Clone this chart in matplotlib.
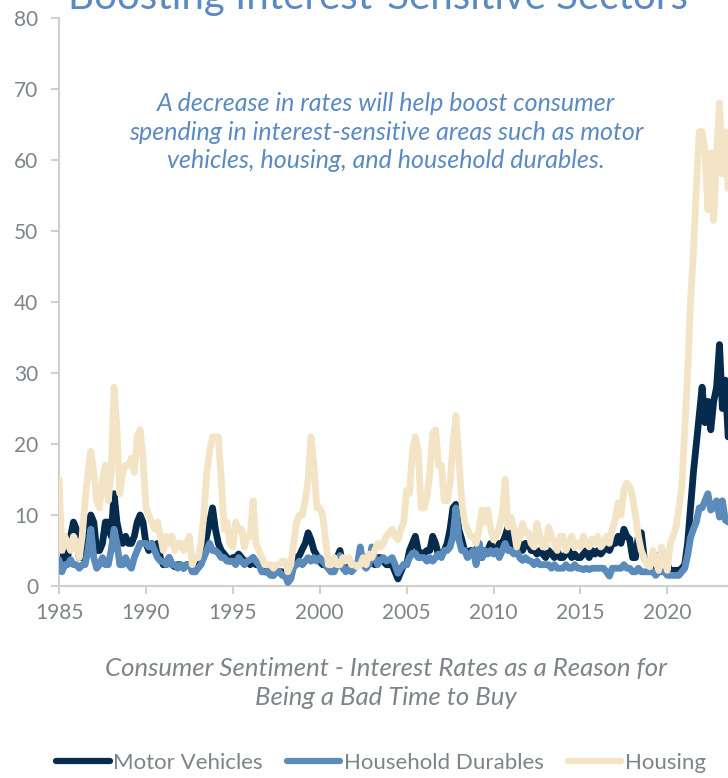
import matplotlib
matplotlib.use("Agg")
import matplotlib.pyplot as plt
import numpy as np
import pandas as pd

plt.rcParams['font.family'] = ['Lato', 'DejaVu Sans']

# ---------------- data (bi-monthly readings, Jan/Mar/May/Jul/Sep/Nov) ----------------
series_names = ["Motor Vehicles", "Household Durables", "Housing"]

motor_vehicles = [
    6, 4, 3, 4, 7, 9,          # 1985
    8, 4, 4, 6, 9, 10,         # 1986
    9, 5, 5, 6, 9, 9,          # 1987
    7, 13, 9, 7, 6, 7,         # 1988
    6, 6, 7, 9, 10, 9,         # 1989
    6, 5, 6, 5, 6, 4,          # 1990
    3, 3, 4, 3, 2.7, 3,        # 1991
    3, 2.5, 3, 3, 2.5, 2,      # 1992
    3, 4, 5.5, 7, 9, 11,       # 1993
    8, 6, 5, 4.5, 4, 3.5,      # 1994
    4, 4, 4.5, 4, 3.5, 3.5,    # 1995
    3, 4, 3, 3, 2.5, 2,        # 1996
    2, 2, 1.5, 2, 2, 2,        # 1997
    2, 1, 1.5, 3, 4, 4.3,      # 1998
    5.2, 6, 7.5, 6.5, 5, 4.3,  # 1999
    3.5, 3, 3, 2.5, 2, 3,      # 2000
    4, 5, 3, 3, 3, 2.5,        # 2001
    3, 3, 3.5, 3, 4, 3,        # 2002
    3.5, 3, 4, 4, 3.5, 3,      # 2003
    3, 3, 2, 1, 2, 3,          # 2004
    3, 5, 6, 7, 5, 4.6,        # 2005
    4.6, 5, 5, 7, 6, 4.3,      # 2006
    4.3, 5, 6, 8, 11, 11.5,    # 2007
    8, 6.6, 5, 4.6, 5, 5,      # 2008
    5, 6, 4, 5, 5, 6,          # 2009
    5, 5, 6, 6, 7, 8.3,        # 2010
    6, 6, 5, 6, 5, 6,          # 2011
    6, 5, 5, 4.5, 5, 4.5,      # 2012
    4, 5, 4.5, 4, 5, 4,        # 2013
    4, 4.5, 5, 4, 4.5, 4,      # 2014
    4, 4.5, 5, 4, 5, 4.5,      # 2015
    5, 4.5, 5, 6, 5, 6,        # 2016
    6, 7, 6, 8, 7, 6.6,        # 2017
    4, 4, 7, 7.5, 4, 3.3,      # 2018
    3.3, 4, 2.5, 4.3, 3.5, 3.5,  # 2019
    3, 2.2, 2.2, 2.2, 2.2, 2.5,  # 2020
    3, 6, 11, 16, 20, 24,      # 2021
    28, 23, 26, 22, 26, 28,    # 2022
    34, 25, 29, 21,            # 2023
]

household_durables = [
    3.7, 2, 3, 3, 3.7, 3,      # 1985
    3, 2.5, 3, 3, 5, 8,        # 1986
    4, 2.5, 3, 4, 3, 3,        # 1987
    5, 8, 6, 3, 3, 4,          # 1988
    3, 2.5, 4, 5, 6, 6,        # 1989
    6, 5.5, 6, 5, 4, 3.5,      # 1990
    3.5, 3, 4, 3, 3, 2.5,      # 1991
    3, 2.5, 3, 3, 2, 2,        # 1992
    2.5, 3, 4, 5, 6, 5,        # 1993
    5, 4.6, 4, 4, 3.5, 3.5,    # 1994
    3.5, 3, 4, 3.5, 3, 3.5,    # 1995
    3.7, 4, 3.5, 3, 2, 2,      # 1996
    2, 1.5, 1.5, 2, 2, 1.5,    # 1997
    1.5, 0.5, 1, 2.7, 3, 3.5,  # 1998
    3, 3.5, 4, 3.5, 4, 3.5,    # 1999
    4, 3.5, 3, 2.5, 2, 2,      # 2000
    3, 4.3, 2.5, 2, 2.5, 2,    # 2001
    2.5, 3, 5.5, 3, 2.5, 3,    # 2002
    5.5, 4, 3, 3.7, 4, 3.5,    # 2003
    3.7, 4, 3, 1.8, 2.5, 3,    # 2004
    3, 4, 4.6, 4.6, 4, 4,      # 2005
    4, 3.5, 4, 3.5, 4, 4.5,    # 2006
    4, 5, 5, 5.5, 7, 11,       # 2007
    6.6, 5, 5, 4, 4.5, 5,      # 2008
    3, 6, 4, 5, 4.5, 5,        # 2009
    4.5, 5, 4, 5, 6, 5,        # 2010
    5, 4.5, 5, 4, 3.6, 4,      # 2011
    3.6, 3.5, 3, 3.5, 3, 3,    # 2012
    3, 3, 2.5, 3, 2.5, 2.5,    # 2013
    2.5, 3, 2.5, 2.5, 3, 2.5,  # 2014
    2.5, 2.3, 2.5, 2.3, 2.5, 2.5,  # 2015
    2.5, 2.5, 2.5, 2, 1.4, 2.5,    # 2016
    2.5, 2.5, 2.5, 3, 2.5, 2.5,    # 2017
    2, 2, 2.5, 2, 2, 2,        # 2018
    2, 2, 1.5, 2, 2, 2,        # 2019
    1.5, 1.5, 1.5, 1.5, 1.5, 2,  # 2020
    2.5, 4.3, 6.8, 8, 9, 11,   # 2021
    11, 12, 13, 10.7, 11, 12,  # 2022
    9.7, 12, 9.3, 9,           # 2023
]

housing = [
    15, 5, 7, 6, 5, 7,         # 1985
    6, 4, 7, 12, 16, 19,       # 1986
    16, 12, 11, 15, 17, 12,    # 1987
    16, 28, 22, 13, 16, 17,    # 1988
    17, 18, 16, 21, 22, 18,    # 1989
    11, 10, 9, 8, 9, 7,        # 1990
    5, 7, 6, 7, 5, 6,          # 1991
    6, 5, 6, 7, 3, 4,          # 1992
    4, 6, 10, 16, 19, 21,      # 1993
    21, 21, 15, 8, 9, 6,       # 1994
    5.5, 9, 8, 8, 5.5, 7,      # 1995
    7, 12, 6, 5, 4, 3,         # 1996
    3, 3, 2.5, 3, 3, 3.5,      # 1997
    3.5, 2, 3, 6, 9, 10,       # 1998
    10, 12, 15, 21, 17, 11,    # 1999
    11, 10, 6.5, 3, 3, 4,      # 2000
    3, 3, 4, 3.5, 4, 3,        # 2001
    3, 2.7, 3, 4, 3, 4.5,      # 2002
    4, 5, 6, 5.5, 6, 7,        # 2003
    7.5, 8, 7, 6.5, 8, 9,      # 2004
    13.5, 13, 19, 21, 19, 11,  # 2005
    11, 12.5, 16, 21.5, 22, 17,  # 2006
    17, 12, 12, 14.5, 20, 24,  # 2007
    18, 12, 9, 8, 7, 7,        # 2008
    6, 8, 10.7, 9, 10.7, 8,    # 2009
    6.5, 7, 8.3, 10, 15, 8.3,  # 2010
    9.7, 8, 5.5, 7, 8.8, 7.5,  # 2011
    7.5, 6, 5.5, 8.8, 7, 5.5,  # 2012
    5.5, 8.3, 7, 6, 5, 7,      # 2013
    7, 5, 6, 7, 5.5, 6,        # 2014
    5.5, 7, 6, 5.5, 6.6, 6,    # 2015
    7, 5.5, 6, 7, 6, 8,        # 2016
    9.3, 11.7, 10, 13.5, 14.5, 14,  # 2017
    12.5, 10, 7, 5, 4, 3,      # 2018
    2.7, 5, 3.5, 2.2, 5.5, 4,  # 2019
    2.2, 6, 7, 8.3, 11, 14,    # 2020
    22, 30, 40, 47, 56, 64,    # 2021
    64, 61, 53, 61, 51.5, 61,  # 2022
    68, 58, 64, 56,            # 2023
]

year_ticks = [1985, 1990, 1995, 2000, 2005, 2010, 2015, 2020]
year_labels = ["1985", "1990", "1995", "2000", "2005", "2010", "2015", "2020"]
y_ticks = [0, 10, 20, 30, 40, 50, 60, 70, 80]

title_text = "Boosting Interest-Sensitive Sectors"
note_text = ("A decrease in rates will help boost consumer\n"
             "spending in interest-sensitive areas such as motor\n"
             "vehicles, housing, and household durables.")
xlabel_text = ("Consumer Sentiment - Interest Rates as a Reason for\n"
               "Being a Bad Time to Buy")

# ---------------- styling ----------------
c_navy = "#062b4c"
c_blue = "#5b8bbb"
c_beige = "#f2e4c5"
c_title = "#5a8ac2"
c_gray = "#7d8489"
c_axis = "#d0d0d0"

dates = pd.date_range("1985-01-01", periods=len(housing), freq="2MS")
x = dates.year + (dates.month - 1) / 12.0

fig = plt.figure(figsize=(7.28, 7.78), dpi=100)
ax = fig.add_axes([59 / 728, 192 / 778, 669 / 728, 568 / 778])

lw = 4.9
ax.plot(x, motor_vehicles, color=c_navy, lw=lw, solid_joinstyle="round",
        solid_capstyle="round", label=series_names[0], zorder=2)
ax.plot(x, household_durables, color=c_blue, lw=lw, solid_joinstyle="round",
        solid_capstyle="round", label=series_names[1], zorder=3)
ax.plot(x, housing, color=c_beige, lw=lw, solid_joinstyle="round",
        solid_capstyle="round", label=series_names[2], zorder=4)

ax.set_xlim(1985, 2023.49)
ax.set_ylim(0, 80)
ax.set_yticks(y_ticks)
ax.set_yticklabels([str(v) for v in y_ticks])
ax.set_xticks(year_ticks)
ax.set_xticklabels(year_labels)

for s in ["top", "right"]:
    ax.spines[s].set_visible(False)
for s in ["left", "bottom"]:
    ax.spines[s].set_color(c_axis)
    ax.spines[s].set_linewidth(1.5)
ax.tick_params(axis="both", colors=c_axis, width=1.5, length=6,
               labelcolor=c_gray, labelsize=15)
ax.tick_params(axis="y", pad=9)
ax.tick_params(axis="x", pad=6)

fig.text(378 / 728, 1 - 9 / 778, title_text, ha="center", va="baseline",
         fontsize=29, color=c_title)

fig.text(386 / 728, 1 - 132 / 778, note_text, ha="center", va="center",
         fontsize=18, color=c_title, style="italic", linespacing=1.3)

fig.text(386 / 728, 1 - 683 / 778, xlabel_text, ha="center", va="center",
         fontsize=18.5, color=c_gray, style="italic", linespacing=1.35)

handles, labels = ax.get_legend_handles_labels()
leg = fig.legend(handles, labels, loc="center", bbox_to_anchor=(381 / 728, 1 - 763 / 778),
                 ncol=3, frameon=False, fontsize=16, handlelength=2.4,
                 handletextpad=0.15, columnspacing=1.1, labelcolor=c_gray)
for h in leg.legend_handles:
    h.set_linewidth(4.5)
    h.set_solid_capstyle("round")

fig.savefig("out.png", dpi=100)
